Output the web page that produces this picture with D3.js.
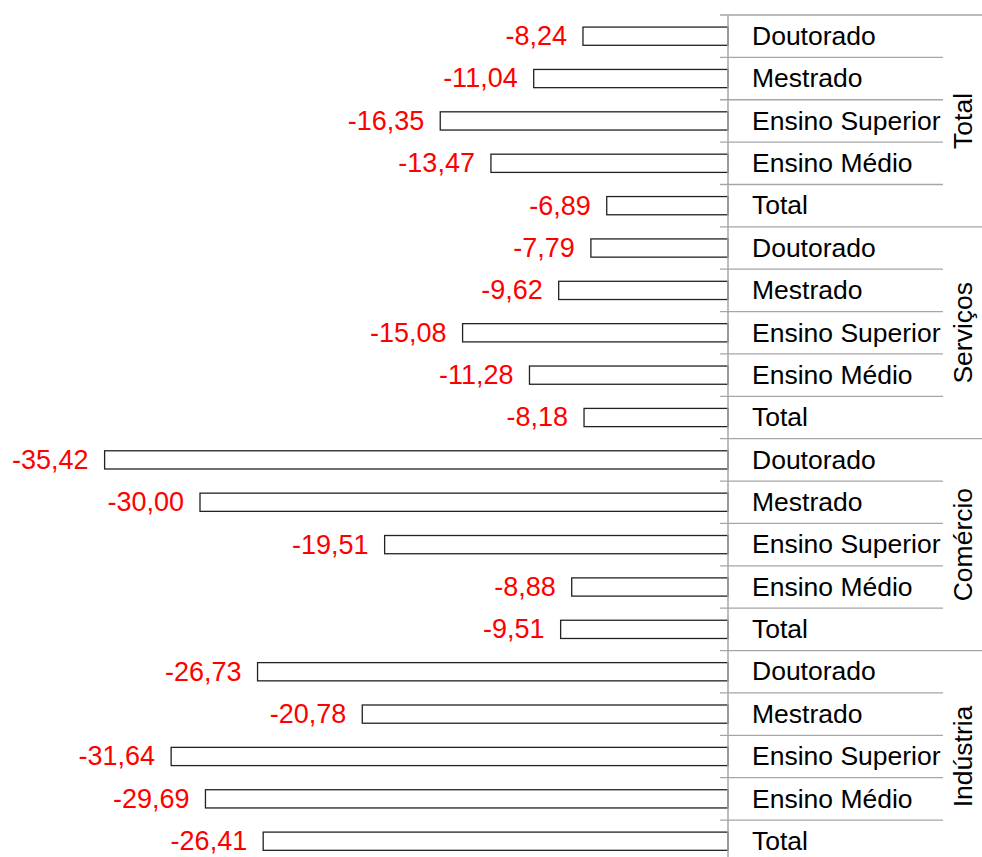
<!DOCTYPE html>
<html>
<head>
<meta charset="utf-8">
<script src="https://cdn.jsdelivr.net/npm/d3@7"></script>
<style>
  body { margin: 0; background: #fff; }
  text { font-family: "Liberation Sans", Arial, sans-serif; }
</style>
</head>
<body>
<div id="chart"></div>
<script>
// data, top to bottom
var groups = ["Total", "Serviços", "Comércio", "Indústria"];
var levels = ["Doutorado", "Mestrado", "Ensino Superior", "Ensino Médio", "Total"];
var totalValues = [-8.24, -11.04, -16.35, -13.47, -6.89];
var servicosValues = [-7.79, -9.62, -15.08, -11.28, -8.18];
var comercioValues = [-35.42, -30.00, -19.51, -8.88, -9.51];
var industriaValues = [-26.73, -20.78, -31.64, -29.69, -26.41];

var seriesByGroup = [totalValues, servicosValues, comercioValues, industriaValues];

var rows = [];
groups.forEach(function(g, gi) {
  levels.forEach(function(l, li) {
    rows.push({ key: g + "|" + l, group: g, level: l, value: seriesByGroup[gi][li], first: li === 0 });
  });
});

var svgWidth = 982;
var svgHeight = 857;

var svg = d3.select("#chart")
  .append("svg")
  .attr("width", svgWidth)
  .attr("height", svgHeight);

var axisX = 728;

var x = d3.scaleLinear()
  .domain([-40, 0])
  .range([axisX - 40 * 17.6, axisX]);

var y = d3.scaleBand()
  .domain(rows.map(d => d.key))
  .range([15, 15 + rows.length * 42.37])
  .padding(0);

var barH = y.bandwidth() * 0.43;

var locale = d3.formatLocale({ decimal: ",", thousands: ".", grouping: [3], currency: ["", ""], minus: "-" });
var fmt = locale.format(".2f");

// separators
var sepGroup = svg.append("g");
rows.forEach(function(d) {
  sepGroup.append("line")
    .attr("x1", axisX - 8)
    .attr("x2", d.first ? svgWidth : 943)
    .attr("y1", y(d.key))
    .attr("y2", y(d.key))
    .attr("stroke", "#a6a6a6")
    .attr("stroke-width", 1.3);
});
// bottom line
sepGroup.append("line")
  .attr("x1", axisX - 8)
  .attr("x2", svgWidth)
  .attr("y1", y.range()[1])
  .attr("y2", y.range()[1])
  .attr("stroke", "#a6a6a6")
  .attr("stroke-width", 1.3);

// bars
svg.append("g")
  .selectAll("rect")
  .data(rows)
  .enter()
  .append("rect")
  .attr("x", d => x(d.value))
  .attr("width", d => x(0) - x(d.value))
  .attr("y", d => y(d.key) + (y.bandwidth() - barH) / 2)
  .attr("height", barH)
  .attr("fill", "#fff")
  .attr("stroke", "#222")
  .attr("stroke-width", 1.3);

// axis line
svg.append("line")
  .attr("x1", axisX)
  .attr("x2", axisX)
  .attr("y1", y.range()[0])
  .attr("y2", svgHeight)
  .attr("stroke", "#a6a6a6")
  .attr("stroke-width", 1.5);

// value labels
svg.append("g")
  .selectAll("text")
  .data(rows)
  .enter()
  .append("text")
  .attr("x", d => x(d.value) - 16)
  .attr("y", d => y(d.key) + y.bandwidth() / 2)
  .attr("dy", "0.33em")
  .attr("text-anchor", "end")
  .attr("fill", "#ff0000")
  .style("font-size", "27px")
  .text(d => fmt(d.value));

// category labels
svg.append("g")
  .selectAll("text")
  .data(rows)
  .enter()
  .append("text")
  .attr("x", axisX + 24)
  .attr("y", d => y(d.key) + y.bandwidth() / 2)
  .attr("dy", "0.33em")
  .attr("fill", "#000")
  .style("font-size", "26.5px")
  .text(d => d.level);

// group labels
groups.forEach(function(g) {
  var top = y(g + "|" + levels[0]);
  var bottom = y(g + "|" + levels[levels.length - 1]) + y.bandwidth();
  var cy = (top + bottom) / 2;
  svg.append("text")
    .attr("transform", `translate(962, ${cy}) rotate(-90)`)
    .attr("dy", "0.36em")
    .attr("text-anchor", "middle")
    .attr("fill", "#000")
    .style("font-size", "26.5px")
    .text(g);
});
</script>
</body>
</html>
